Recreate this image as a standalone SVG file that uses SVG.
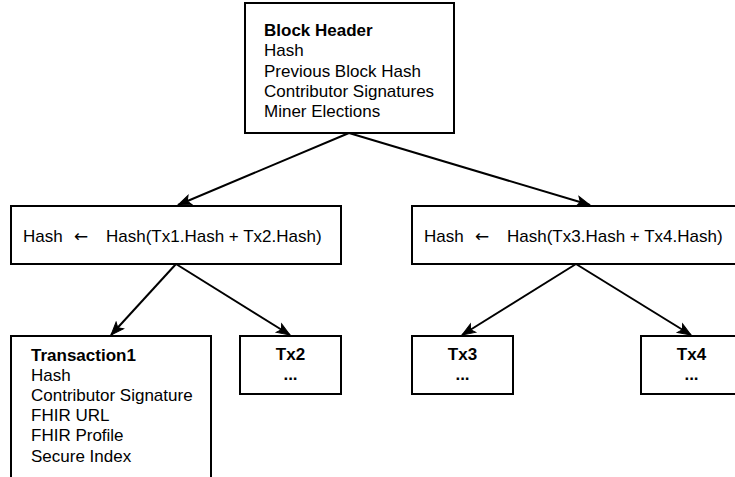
<svg xmlns="http://www.w3.org/2000/svg" width="735" height="477" viewBox="0 0 735 477">
<style>
.box{fill:#fff;stroke:#000;stroke-width:2}
.t{font-family:"Liberation Sans",Arial,sans-serif;font-size:17px;fill:#000}
.b{font-weight:bold}
.c{text-anchor:middle}
.ar{font-family:"DejaVu Sans",sans-serif;font-size:17px;fill:#000}
.edge{fill:none;stroke:#000;stroke-width:2}
</style>
<defs>
<marker id="arr" markerUnits="userSpaceOnUse" markerWidth="16" markerHeight="14" refX="14" refY="6" orient="auto" viewBox="0 0 16 12">
<path d="M1,1 L14,6 L1,11 L4,6 Z" fill="#000" stroke="#000" stroke-width="1"/>
</marker>
</defs>
<rect width="735" height="477" fill="#fff"/>
<g id="connectors">
<line class="edge" x1="349" y1="133" x2="178" y2="205" marker-end="url(#arr)"/>
<line class="edge" x1="349" y1="133" x2="590" y2="205" marker-end="url(#arr)"/>
<line class="edge" x1="176" y1="264" x2="111" y2="335" marker-end="url(#arr)"/>
<line class="edge" x1="176" y1="264" x2="290" y2="335" marker-end="url(#arr)"/>
<line class="edge" x1="576" y1="264" x2="462" y2="335" marker-end="url(#arr)"/>
<line class="edge" x1="576" y1="264" x2="691" y2="335" marker-end="url(#arr)"/>
</g>
<g id="block-header">
<rect class="box" x="245" y="3" width="209" height="130"/>
<text class="t b" x="264" y="36">Block Header</text>
<text class="t" x="264" y="56">Hash</text>
<text class="t" x="264" y="77">Previous Block Hash</text>
<text class="t" x="264" y="97">Contributor Signatures</text>
<text class="t" x="264" y="117">Miner Elections</text>
</g>
<g id="hash-left">
<rect class="box" x="11" y="206" width="330" height="58"/>
<text class="t" x="23" y="242">Hash</text>
<text class="ar" x="74" y="242">←</text>
<text class="t" x="106" y="242">Hash(Tx1.Hash + Tx2.Hash)</text>
</g>
<g id="hash-right">
<rect class="box" x="412" y="206" width="340" height="58"/>
<text class="t" x="424" y="242">Hash</text>
<text class="ar" x="475" y="242">←</text>
<text class="t" x="507" y="242">Hash(Tx3.Hash + Tx4.Hash)</text>
</g>
<g id="transaction1">
<rect class="box" x="11" y="336" width="200" height="160"/>
<text class="t b" x="31" y="361">Transaction1</text>
<text class="t" x="31" y="381">Hash</text>
<text class="t" x="31" y="401">Contributor Signature</text>
<text class="t" x="31" y="421">FHIR URL</text>
<text class="t" x="31" y="441">FHIR Profile</text>
<text class="t" x="31" y="462">Secure Index</text>
</g>
<g id="tx2">
<rect class="box" x="240" y="336" width="101" height="58"/>
<text class="t b c" x="290.5" y="360">Tx2</text>
<text class="t b c" x="290.5" y="380">...</text>
</g>
<g id="tx3">
<rect class="box" x="412" y="336" width="101" height="58"/>
<text class="t b c" x="462.5" y="360">Tx3</text>
<text class="t b c" x="462.5" y="380">...</text>
</g>
<g id="tx4">
<rect class="box" x="641" y="336" width="101" height="58"/>
<text class="t b c" x="691.5" y="360">Tx4</text>
<text class="t b c" x="691.5" y="380">...</text>
</g>
</svg>
